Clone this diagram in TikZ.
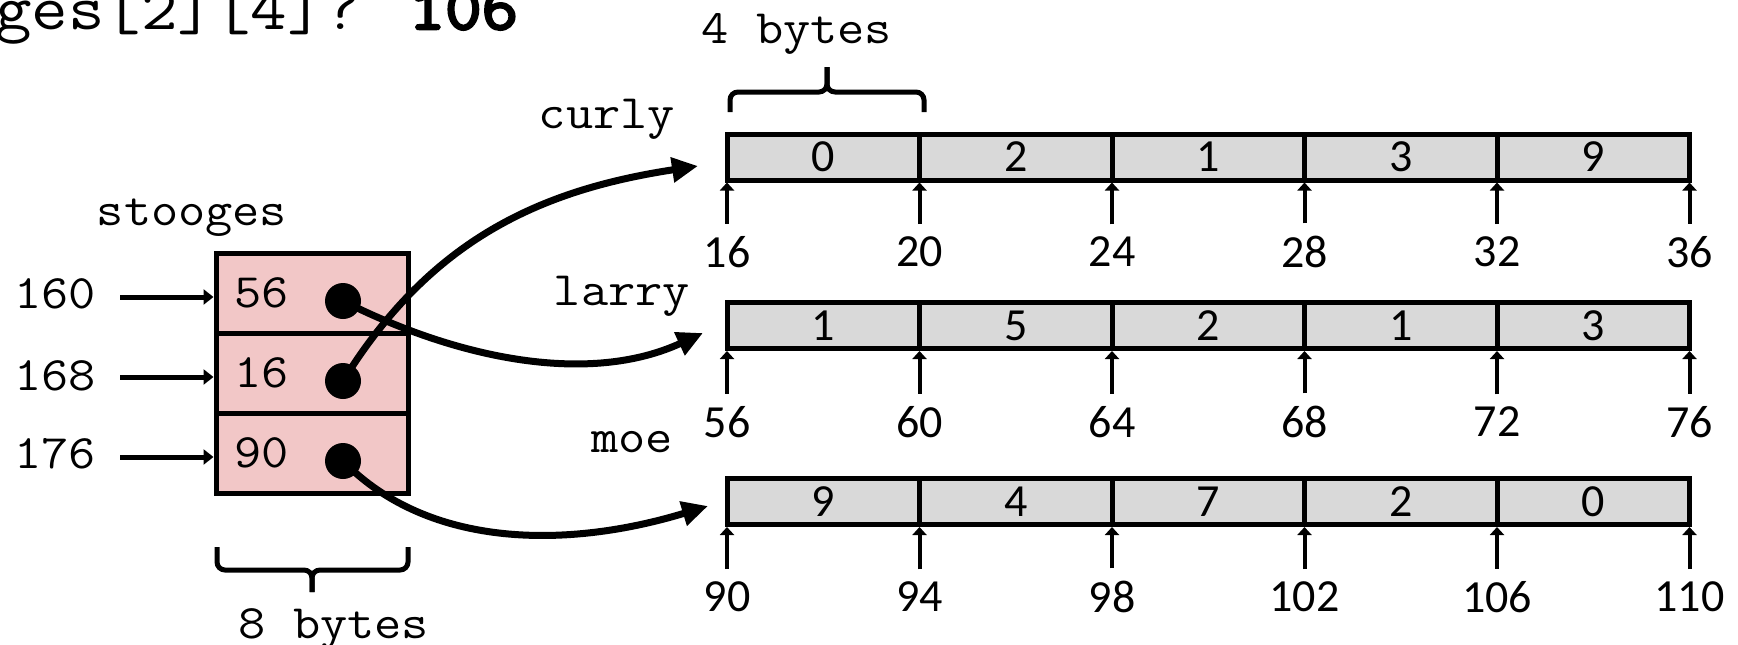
\documentclass[tikz,border=0pt]{standalone}
\usepackage{fontspec}
\setmainfont{Carlito}
\newfontfamily\monofnt[FakeStretch=1.1]{Latin Modern Mono}
\newfontfamily\monoboldfnt[FakeStretch=1.1,FakeBold=4]{Latin Modern Mono}
\usetikzlibrary{arrows.meta}
\definecolor{cellgray}{RGB}{217,217,217}
\definecolor{stoogepink}{RGB}{242,199,199}
\begin{document}
\begin{tikzpicture}[x=1pt,y=-1pt,
  arr/.style={draw, line width=5pt, fill=cellgray, minimum width=192.5pt, minimum height=46pt, inner sep=0pt, font=\fontsize{46}{50}\selectfont},
  lab/.style={inner sep=0pt, font=\fontsize{46}{50}\selectfont},
  mono/.style={inner sep=0pt, font=\monofnt\fontsize{48}{52}\selectfont},
  pk/.style={draw, line width=5pt, fill=stoogepink, minimum width=192pt, minimum height=80pt, inner sep=0pt},
  dot/.style={circle, fill=black, minimum size=36pt, inner sep=0pt},
  tick/.style={line width=4pt, -{Triangle[length=8pt,width=14pt]}, shorten <=12.5pt},
  addr/.style={line width=5pt, -{Triangle[length=10pt,width=15pt]}},
  curve/.style={line width=7pt, -{Triangle[length=26pt,width=24pt]}},
  brace/.style={line width=5pt, rounded corners=8pt}
]
\useasboundingbox (0,0) rectangle (1738,645);

% title (clipped at the top-left, as in the reference)
\node[inner sep=0pt, anchor=base west, font=\monofnt\fontsize{64.4}{70}\selectfont] (title) at (-5,29) {ges[2][4]? {\monoboldfnt 106}};

% arrays
\foreach \v [count=\i] in {0,2,1,3,9}
  \node[arr] (cu\i) at ({727+192.5*(\i-0.5)},157) {\v};
\foreach \v [count=\i] in {1,5,2,1,3}
  \node[arr] (la\i) at ({727+192.5*(\i-0.5)},325.5) {\v};
\foreach \v [count=\i] in {9,4,7,2,0}
  \node[arr] (mo\i) at ({727+192.5*(\i-0.5)},501.5) {\v};

% address labels and ticks
\foreach \a [count=\i] in {16,20,24,28,32,36}{
  \node[lab] (cl\i) at ({727+192.5*(\i-1)},252) {\a};
  \draw[tick] (cl\i) -- (cl\i |- cu1.south);
}
\foreach \a [count=\i] in {56,60,64,68,72,76}{
  \node[lab] (ll\i) at ({727+192.5*(\i-1)},422) {\a};
  \draw[tick] (ll\i) -- (ll\i |- la1.south);
}
\foreach \a [count=\i] in {90,94,98,102,106,110}{
  \node[lab] (ml\i) at ({727+192.5*(\i-1)},597) {\a};
  \draw[tick] (ml\i) -- (ml\i |- mo1.south);
}

% array names
\node[mono, anchor=base east] (ncurly) at (675,128) {curly};
\node[mono, anchor=base east] (nlarry) at (690,305) {larry};
\node[mono, anchor=base east] (nmoe) at (673,452) {moe};

% 4 bytes brace
\draw[brace] (730,112) -- (730,92) -- (827,92) -- (827,67);
\draw[brace] (924,112) -- (924,92) -- (827,92) -- (827,67);
\node[mono, anchor=base] (fourb) at (797,43) {4 bytes};

% stooges array
\node[mono, anchor=base] (nstooges) at (192,225) {stooges};
\node[pk] (p1) at (312,293) {};
\node[pk] (p2) at (312,373) {};
\node[pk] (p3) at (312,453) {};
\node[mono, anchor=base west] (v1) at (234,307) {56};
\node[mono, anchor=base west] (v2) at (234,387) {16};
\node[mono, anchor=base west] (v3) at (234,467) {90};

% addresses
\node[mono, anchor=base west] (a160) at (14,308) {160};
\node[mono, anchor=base west] (a168) at (14,390) {168};
\node[mono, anchor=base west] (a176) at (14,468) {176};
\coordinate (s160) at (120,297);
\coordinate (s168) at (120,377);
\coordinate (s176) at (120,457);
\draw[addr] (s160) -- (p1.west |- s160);
\draw[addr] (s168) -- (p2.west |- s168);
\draw[addr] (s176) -- (p3.west |- s176);

% 8 bytes brace
\draw[brace] (217,547) -- (217,570) -- (312,570) -- (312,592);
\draw[brace] (408,547) -- (408,570) -- (312,570) -- (312,592);
\node[mono, anchor=base] (eightb) at (334,638) {8 bytes};

% pointers
\coordinate (curlyin) at (698,166);
\coordinate (larryin) at (703,333);
\coordinate (moein) at (708,506);
\node[dot] (d1) at (343,301) {};
\node[dot] (d2) at (343,381) {};
\node[dot] (d3) at (343,461) {};
\draw[curve] (d1.center) .. controls (460,360) and (590,385) .. (larryin);
\draw[curve] (d2.center) .. controls (430,240) and (540,190) .. (curlyin);
\draw[curve] (d3.center) .. controls (430,550) and (570,548) .. (moein);
\end{tikzpicture}
\end{document}
